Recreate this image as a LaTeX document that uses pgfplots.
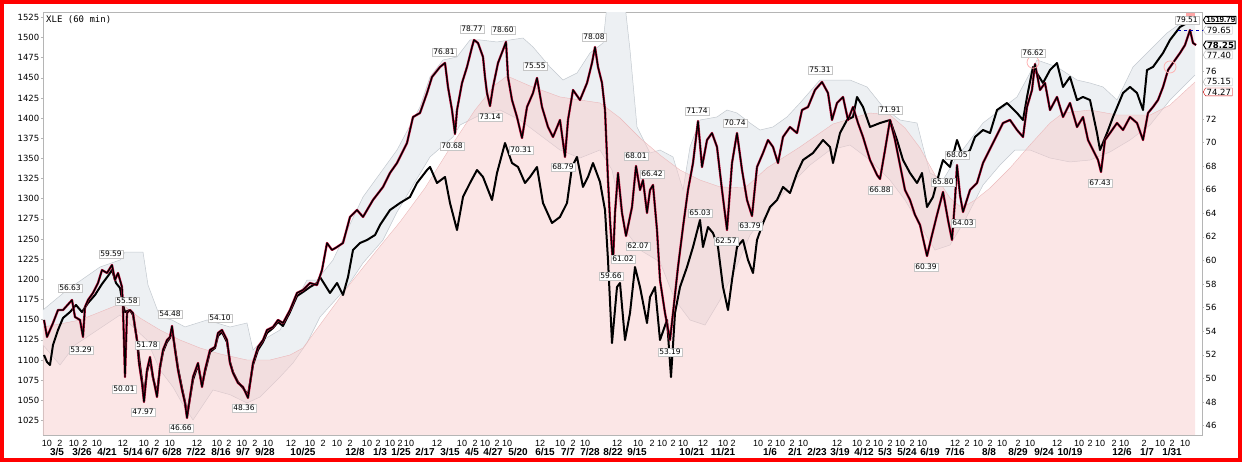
\documentclass[border=0pt]{standalone}
\usepackage{fontspec}
\setmainfont{DejaVu Sans}
\newfontfamily\lib{Liberation Sans}
\newfontfamily\mono{DejaVu Sans Mono}
\usepackage{pgfplots}
\usepackage{pgfplotstable}
\pgfplotsset{compat=1.18}
\usepgfplotslibrary{fillbetween}
\usetikzlibrary{shapes.symbols}
\definecolor{bandgrey}{HTML}{EDF0F3}
\definecolor{bandedge}{HTML}{C3C9CF}
\definecolor{pinkfill}{HTML}{F7CDCD}
\definecolor{pinkedge}{HTML}{EBB9BB}
\definecolor{candlered}{HTML}{C4123F}
\definecolor{axisgrey}{HTML}{B5B5B5}

% Series B (left scale)
\pgfplotstableread{
x y
44 1106.2
47 1097.5
50 1093.8
53 1118.6
58 1137.2
63 1152.1
70 1159.5
76 1168.2
82 1159.5
88 1170.7
95 1180.6
102 1194.3
108 1204.2
112 1211.6
116 1195.5
120 1189.3
123 1168.2
125 1159.5
130 1162.0
133 1155.8
137 1124.8
140 1093.8
144 1056.6
147 1085.1
150 1100.0
153 1077.7
157 1059.1
160 1090.1
163 1109.9
167 1122.3
170 1127.3
172 1137.2
175 1114.9
178 1090.1
182 1065.3
185 1047.9
187 1031.8
190 1052.9
193 1075.2
198 1093.8
202 1069.0
205 1085.1
210 1109.9
215 1114.9
218 1129.8
222 1134.7
227 1122.3
230 1097.5
233 1085.1
238 1072.7
243 1065.3
248 1056.6
253 1093.8
258 1112.4
263 1122.3
267 1133.5
273 1139.7
278 1147.1
283 1142.2
290 1159.5
297 1179.4
303 1184.3
310 1190.5
317 1195.5
320 1202.9
325 1193.0
330 1183.1
337 1195.5
343 1180.6
348 1202.9
353 1236.4
360 1245.1
367 1248.8
375 1255.0
380 1267.4
390 1286.0
400 1294.7
410 1302.2
417 1319.5
427 1335.6
430 1339.4
437 1319.5
445 1327.0
450 1294.7
457 1261.2
463 1302.2
470 1319.5
477 1335.6
483 1327.0
492 1298.4
497 1331.9
505 1369.1
512 1344.3
518 1339.4
525 1319.5
530 1327.0
537 1339.4
543 1294.7
552 1269.9
560 1277.4
567 1294.7
572 1339.4
577 1351.8
583 1314.6
588 1327.0
593 1344.3
600 1320.8
605 1286.0
608 1224.0
612 1121.1
617 1190.5
620 1195.5
625 1124.8
630 1158.3
635 1215.3
640 1190.5
647 1145.9
650 1178.1
655 1190.5
660 1124.8
667 1149.6
671 1078.9
675 1158.3
680 1190.5
687 1215.3
693 1240.1
700 1273.6
703 1240.1
708 1264.9
713 1257.5
718 1240.1
723 1190.5
728 1162.0
732 1199.2
737 1240.1
743 1248.8
748 1224.0
753 1207.9
757 1248.8
763 1269.9
770 1289.7
777 1298.4
783 1314.6
790 1307.1
797 1331.9
803 1348.0
813 1356.7
823 1372.8
830 1364.2
833 1344.3
840 1381.5
847 1397.6
853 1401.4
857 1426.2
863 1413.8
870 1389.0
880 1393.9
890 1397.6
897 1372.8
903 1348.0
910 1331.9
917 1319.5
922 1331.9
927 1289.7
933 1302.2
940 1335.6
943 1348.0
950 1339.4
957 1372.8
963 1351.8
970 1360.4
975 1376.6
983 1385.2
990 1381.5
997 1410.0
1007 1418.7
1017 1406.3
1023 1397.6
1027 1426.2
1033 1463.4
1043 1443.5
1050 1459.6
1057 1468.3
1063 1438.6
1070 1451.0
1077 1422.4
1083 1426.2
1090 1422.4
1097 1381.5
1100 1360.4
1107 1381.5
1113 1401.4
1123 1431.1
1130 1438.6
1137 1431.1
1143 1410.0
1147 1459.6
1153 1463.4
1163 1480.7
1170 1496.9
1180 1513.0
1187 1517.9
1193 1520.4
}\Btab

% Series A (XLE, right scale)
\pgfplotstableread{
x y
44 54.96
47 53.52
50 54.11
53 54.70
58 55.80
63 55.80
72 56.65
75 55.21
80 54.96
83 53.52
85 56.06
88 56.65
93 57.25
98 58.09
102 59.19
107 58.94
112 59.62
115 58.35
118 58.94
122 57.75
123 55.97
125 50.13
127 55.55
130 55.80
133 55.55
135 54.36
137 53.26
139 51.31
142 49.62
144 48.01
147 50.72
150 51.82
153 50.13
157 48.43
160 50.97
163 52.42
167 53.26
170 53.52
172 54.45
175 52.42
178 50.72
182 49.03
185 47.92
187 46.65
190 48.43
193 50.13
198 51.31
202 49.28
205 50.72
210 52.42
215 52.67
218 53.86
222 54.11
227 53.26
230 51.31
233 50.47
238 49.62
243 49.28
248 48.35
253 51.31
258 52.67
263 53.26
267 54.11
273 54.36
278 54.96
283 54.70
290 55.80
297 57.25
303 57.50
310 58.09
317 57.92
322 59.19
327 61.48
332 60.89
337 61.14
343 61.48
350 63.69
357 64.28
363 63.69
373 65.13
383 66.23
390 67.42
397 68.26
407 69.96
413 72.16
420 72.50
427 74.19
432 75.55
440 76.40
445 76.74
448 74.70
452 72.75
455 70.72
457 72.75
462 75.04
467 76.40
472 78.09
474 78.69
478 78.43
483 77.25
485 75.55
487 74.19
490 73.09
493 74.70
498 76.74
503 77.84
506 78.52
508 75.55
512 73.60
517 72.16
522 70.38
527 73.01
533 74.19
537 75.47
542 73.01
548 71.31
553 70.47
560 71.91
565 68.77
568 71.91
573 74.45
580 73.60
587 75.04
592 76.74
595 78.09
598 76.40
602 75.04
605 72.75
608 66.82
610 63.43
612 60.89
613 59.87
615 64.03
618 67.42
622 64.03
626 62.08
632 64.53
636 68.01
640 65.97
643 66.82
647 64.03
650 65.97
653 66.40
657 62.58
660 58.35
665 55.55
670 53.26
673 55.55
678 59.45
683 62.84
688 65.97
693 68.26
698 71.82
702 67.92
707 70.21
712 70.80
717 69.62
722 65.97
727 62.58
732 68.26
737 70.80
742 67.67
747 65.13
752 63.77
757 67.92
763 69.11
768 70.21
773 69.62
778 68.26
783 70.47
790 71.31
797 70.80
802 72.75
808 73.01
815 74.45
822 75.13
828 74.19
832 71.91
837 73.35
843 73.86
848 71.91
853 73.01
858 71.65
863 70.47
870 68.52
877 67.25
880 66.91
885 69.36
890 71.91
895 70.21
900 68.09
905 65.97
910 65.13
915 63.86
920 63.01
927 60.38
932 62.16
937 63.86
943 65.81
948 63.43
952 61.74
955 65.13
957 68.09
960 65.55
963 64.11
970 65.97
977 66.57
983 68.26
993 69.96
1003 71.65
1010 71.91
1017 71.06
1023 70.47
1027 73.01
1032 74.45
1035 76.65
1040 74.45
1045 75.04
1050 72.75
1057 73.86
1063 72.16
1070 73.35
1077 71.31
1083 72.16
1088 70.21
1093 69.36
1098 68.52
1101 67.50
1105 70.21
1110 70.80
1117 71.65
1123 71.06
1130 72.16
1137 71.65
1143 70.21
1148 72.50
1153 73.01
1158 73.60
1163 74.70
1168 76.14
1175 76.99
1180 77.58
1185 78.26
1190 79.53
1193 78.43
1196 78.26
}\Atab

% Pink area top (left scale)
\pgfplotstableread{
x y
43 1140.9
60 1144.7
80 1149.6
100 1159.5
115 1167.0
123 1168.2
140 1152.1
160 1137.2
180 1124.8
200 1114.9
220 1107.5
247 1100.0
270 1100.0
290 1106.2
303 1114.9
325 1152.1
350 1194.3
377 1236.4
400 1271.2
425 1313.3
450 1362.9
475 1410.0
495 1441.0
507 1452.2
530 1439.8
560 1426.2
600 1418.7
620 1400.1
640 1375.3
660 1354.2
680 1335.6
700 1323.2
720 1314.6
745 1313.3
767 1338.1
800 1364.2
833 1392.7
870 1406.3
890 1403.8
905 1387.7
920 1362.9
935 1329.4
950 1300.9
962 1288.5
975 1298.4
990 1313.3
1010 1338.1
1030 1366.6
1050 1393.9
1063 1406.3
1090 1410.0
1117 1403.8
1150 1403.8
1170 1416.2
1195 1444.8
}\Ptab

% Grey band upper edge (left scale)
\pgfplotstableread{
x y
43 1162.0
67 1186.8
100 1215.3
120 1224.0
125 1233.9
143 1233.9
148 1193.0
160 1153.3
172 1149.6
185 1141.0
207 1149.6
230 1140.9
247 1145.9
253 1112.4
263 1124.8
280 1137.2
290 1160.0
307 1199.2
317 1199.2
333 1224.0
363 1302.2
397 1360.4
420 1413.8
430 1451.0
443 1472.0
457 1475.8
470 1496.9
480 1496.9
497 1494.4
510 1496.9
523 1499.3
533 1488.2
550 1463.4
563 1447.2
577 1455.9
590 1480.7
603 1493.1
607 1540.3
625 1540.3
630 1484.4
637 1389.0
650 1356.7
660 1360.4
673 1351.8
683 1310.8
690 1364.2
700 1397.6
717 1401.4
727 1410.0
737 1406.3
750 1393.9
760 1385.2
773 1389.0
787 1401.4
800 1418.7
820 1447.2
850 1447.2
867 1438.6
883 1413.8
900 1397.6
917 1393.9
923 1364.2
930 1331.9
943 1323.2
955 1348.0
970 1372.8
983 1393.9
1000 1410.0
1017 1426.2
1037 1472.0
1057 1463.4
1077 1447.2
1090 1443.5
1103 1438.6
1117 1422.4
1133 1463.4
1167 1505.5
1195 1530.3
}\GUtab

% Grey band lower edge (left scale)
\pgfplotstableread{
x y
43 1118.6
60 1093.8
75 1118.6
90 1131.0
105 1143.4
120 1155.8
133 1140.9
147 1124.8
160 1087.6
173 1066.5
182 1046.7
193 1025.6
213 1062.8
230 1057.0
247 1046.7
260 1054.1
280 1079.0
293 1096.3
307 1121.1
320 1153.3
347 1190.5
363 1220.3
383 1248.8
397 1283.5
430 1351.8
453 1376.6
460 1391.4
480 1403.8
500 1410.0
520 1397.6
540 1379.0
560 1360.4
580 1350.5
600 1360.4
612 1335.6
625 1261.2
640 1236.4
660 1221.6
675 1174.4
690 1149.6
705 1143.4
720 1174.4
735 1211.6
750 1255.0
770 1286.0
790 1317.0
810 1341.8
830 1360.4
850 1366.6
870 1348.0
890 1323.2
905 1298.4
920 1267.4
935 1236.4
950 1242.6
965 1273.6
983 1317.0
1000 1341.8
1015 1360.4
1030 1360.4
1050 1350.5
1070 1345.6
1090 1348.0
1110 1358.0
1130 1372.8
1150 1391.4
1170 1422.4
1195 1453.4
}\GLtab

\begin{document}
\begin{tikzpicture}
\pgfkeys{/pgf/number format/.cd, 1000 sep={}, assume math mode=true}
\tikzset{
  lbl/.style={draw=gray!45, fill=white, inner xsep=1.2pt, inner ysep=1.1pt,
    font=\fontsize{7.5}{8}\selectfont, text=black},
  rbox/.style={shape=signal, signal to=west, signal pointer angle=120,
    draw=gray!60, fill=white, inner xsep=1.2pt, inner ysep=0.8pt,
    font=\fontsize{8.5}{9}\selectfont, anchor=west},
}
\begin{axis}[
  scale only axis, width=1159pt, height=422.3pt,
  xmin=43, xmax=1202, ymin=1007.0, ymax=1530.7,
  set layers,
  axis line style={axisgrey, line width=0.7pt},
  tick style={axisgrey, line width=0.5pt},
  tick align=outside, major tick length=2pt,
  ytick pos=left, xtick pos=bottom,
  ytick={1025,1050,...,1525},
  yticklabel={\pgfmathprintnumber{\tick}},
  yticklabel style={font=\fontsize{8.5}{9}\selectfont, inner xsep=1.5pt},
  xtick={47,60,74,85,97,123,144,157,170,197,217,229,242,255,268,291,310,323,337,350,367,378,390,400,409,437,462,475,485,497,507,540,560,573,585,617,638,652,662,673,683,703,723,733,758,770,780,792,803,837,857,868,878,890,900,912,922,955,967,978,990,1002,1018,1030,1057,1079,1090,1100,1114,1124,1144,1160,1172,1185},
  xticklabels={10,2,10,2,10,12,10,2,10,12,10,2,10,2,10,12,10,2,10,2,10,2,10,2,10,12,10,2,10,2,10,12,10,2,10,12,10,2,10,2,10,12,10,2,10,2,10,2,10,12,10,2,10,2,10,2,10,12,2,10,2,10,2,10,12,10,2,10,2,10,2,10,2,10},
  xticklabel style={font=\lib\fontsize{9}{10}\selectfont, yshift=-2pt, inner ysep=1pt},
  x tick style={draw=none},
  extra x ticks={57,82,107,133,152,172,196,221,243,265,303,355,380,401,425,450,472,493,518,545,568,590,613,637,692,723,770,795,817,840,864,885,907,930,955,989,1018,1044,1070,1122,1147,1172},
  extra x tick labels={3/5,3/26,4/21,5/14,6/7,6/28,7/22,8/16,9/7,9/28,10/25,12/8,1/3,1/25,2/17,3/15,4/5,4/27,5/20,6/15,7/7,7/28,8/22,9/15,10/21,11/21,1/6,2/1,2/23,3/19,4/12,5/3,5/24,6/19,7/16,8/8,8/29,9/24,10/19,12/6,1/7,1/31},
  extra x tick style={major tick length=0pt, xticklabel style={font=\lib\bfseries\fontsize{10}{11}\selectfont, yshift=-10pt}},
]
\coordinate (SW) at (rel axis cs:0,0);
\addplot[name path=gu, draw=bandedge, line width=0.5pt] table {\GUtab};
\addplot[name path=gl, draw=bandedge, line width=0.5pt] table {\GLtab};
\addplot[bandgrey] fill between[of=gu and gl];
\addplot[draw=none, fill=pinkfill, fill opacity=0.5] table {\Ptab} \closedcycle;
\addplot[draw=pinkedge, line width=0.4pt] table {\Ptab};
\addplot[black, line width=2.0pt, line join=round] table {\Btab};
\end{axis}

\begin{axis}[
  scale only axis, width=1159pt, height=422.3pt,
  xmin=43, xmax=1202, ymin=45.21, ymax=81.0,
  clip mode=individual,
  axis x line=none, axis y line*=right,
  axis line style={axisgrey, line width=0.7pt},
  tick style={axisgrey, line width=0.5pt},
  tick align=outside, major tick length=2pt,
  ytick={46,48,...,72,76},
  yticklabel={\pgfmathprintnumber{\tick}},
  yticklabel style={font=\fontsize{8.5}{9}\selectfont, inner xsep=1.5pt},
]
\addplot[candlered, line width=2.3pt, line join=round] table {\Atab};
\addplot[black, line width=1.3pt, line join=round] table {\Atab};
% decorations top right
\fill[red!35] (axis cs:1186,79.96) rectangle (axis cs:1195,81.0);
\draw[red!30, line width=0.8pt] (axis cs:1033,76.8) circle[radius=6pt];
\draw[red!30, line width=0.8pt] (axis cs:1170,76.4) circle[radius=6pt];
% title
\node[anchor=west, font=\mono\fontsize{9}{10}\selectfont, inner sep=0pt] at (axis cs:46,80.42) {XLE (60 min)};
% value labels
\node[lbl] at (axis cs:70,57.67) {56.63};
\node[lbl] at (axis cs:111,60.55) {59.59};
\node[lbl] at (axis cs:81,52.42) {53.29};
\node[lbl] at (axis cs:127,56.57) {55.58};
\node[lbl] at (axis cs:124,49.11) {50.01};
\node[lbl] at (axis cs:147,52.84) {51.78};
\node[lbl] at (axis cs:143,47.16) {47.97};
\node[lbl] at (axis cs:170,55.47) {54.48};
\node[lbl] at (axis cs:181,45.81) {46.66};
\node[lbl] at (axis cs:220,55.13) {54.10};
\node[lbl] at (axis cs:244,47.50) {48.36};
\node[lbl] at (axis cs:444,77.67) {76.81};
\node[lbl] at (axis cs:472,79.62) {78.77};
\node[lbl] at (axis cs:503,79.53) {78.60};
\node[lbl] at (axis cs:535,76.48) {75.55};
\node[lbl] at (axis cs:490,72.16) {73.14};
\node[lbl] at (axis cs:452,69.70) {70.68};
\node[lbl] at (axis cs:521,69.36) {70.31};
\node[lbl] at (axis cs:563,67.92) {68.79};
\node[lbl] at (axis cs:594,78.94) {78.08};
\node[lbl] at (axis cs:636,68.86) {68.01};
\node[lbl] at (axis cs:652,67.33) {66.42};
\node[lbl] at (axis cs:638,61.23) {62.07};
\node[lbl] at (axis cs:623,60.13) {61.02};
\node[lbl] at (axis cs:611,58.69) {59.66};
\node[lbl] at (axis cs:670,52.25) {53.19};
\node[lbl] at (axis cs:697,72.67) {71.74};
\node[lbl] at (axis cs:735,71.65) {70.74};
\node[lbl] at (axis cs:700,64.03) {65.03};
\node[lbl] at (axis cs:726,61.65) {62.57};
\node[lbl] at (axis cs:750,62.92) {63.79};
\node[lbl] at (axis cs:820,76.14) {75.31};
\node[lbl] at (axis cs:880,65.97) {66.88};
\node[lbl] at (axis cs:890,72.75) {71.91};
\node[lbl] at (axis cs:926,59.45) {60.39};
\node[lbl] at (axis cs:943,66.65) {65.80};
\node[lbl] at (axis cs:957,68.94) {68.05};
\node[lbl] at (axis cs:963,63.18) {64.03};
\node[lbl] at (axis cs:1033,77.58) {76.62};
\node[lbl] at (axis cs:1100,66.57) {67.43};
\node[lbl] at (axis cs:1187,80.38) {79.51};
% right-hand value boxes
\draw[blue!70!black, dashed, line width=0.6pt] (axis cs:1178,79.53) -- (axis cs:1204,79.53);
\node[rbox, draw=black, line width=0.8pt, font=\lib\bfseries\fontsize{8}{9}\selectfont, inner xsep=0.8pt] at (axis cs:1203,80.38) {1519.79};
\node[rbox] at (axis cs:1203,79.53) {79.65};
\node[rbox, draw=black, line width=0.9pt] at (axis cs:1203,78.26) {\bfseries 78.25};
\node[rbox] at (axis cs:1203,77.42) {77.40};
\node[rbox] at (axis cs:1203,75.13) {75.15};
\node[rbox, draw=red!80!black] at (axis cs:1203,74.28) {74.27};
\end{axis}
\draw[red, line width=4pt] ([shift={(-41pt,-25pt)}]SW) rectangle ([shift={(1197pt,433pt)}]SW);
\pgfresetboundingbox
\path[use as bounding box] ([shift={(-43pt,-27pt)}]SW) rectangle ([shift={(1199pt,435pt)}]SW);
\end{tikzpicture}
\end{document}
